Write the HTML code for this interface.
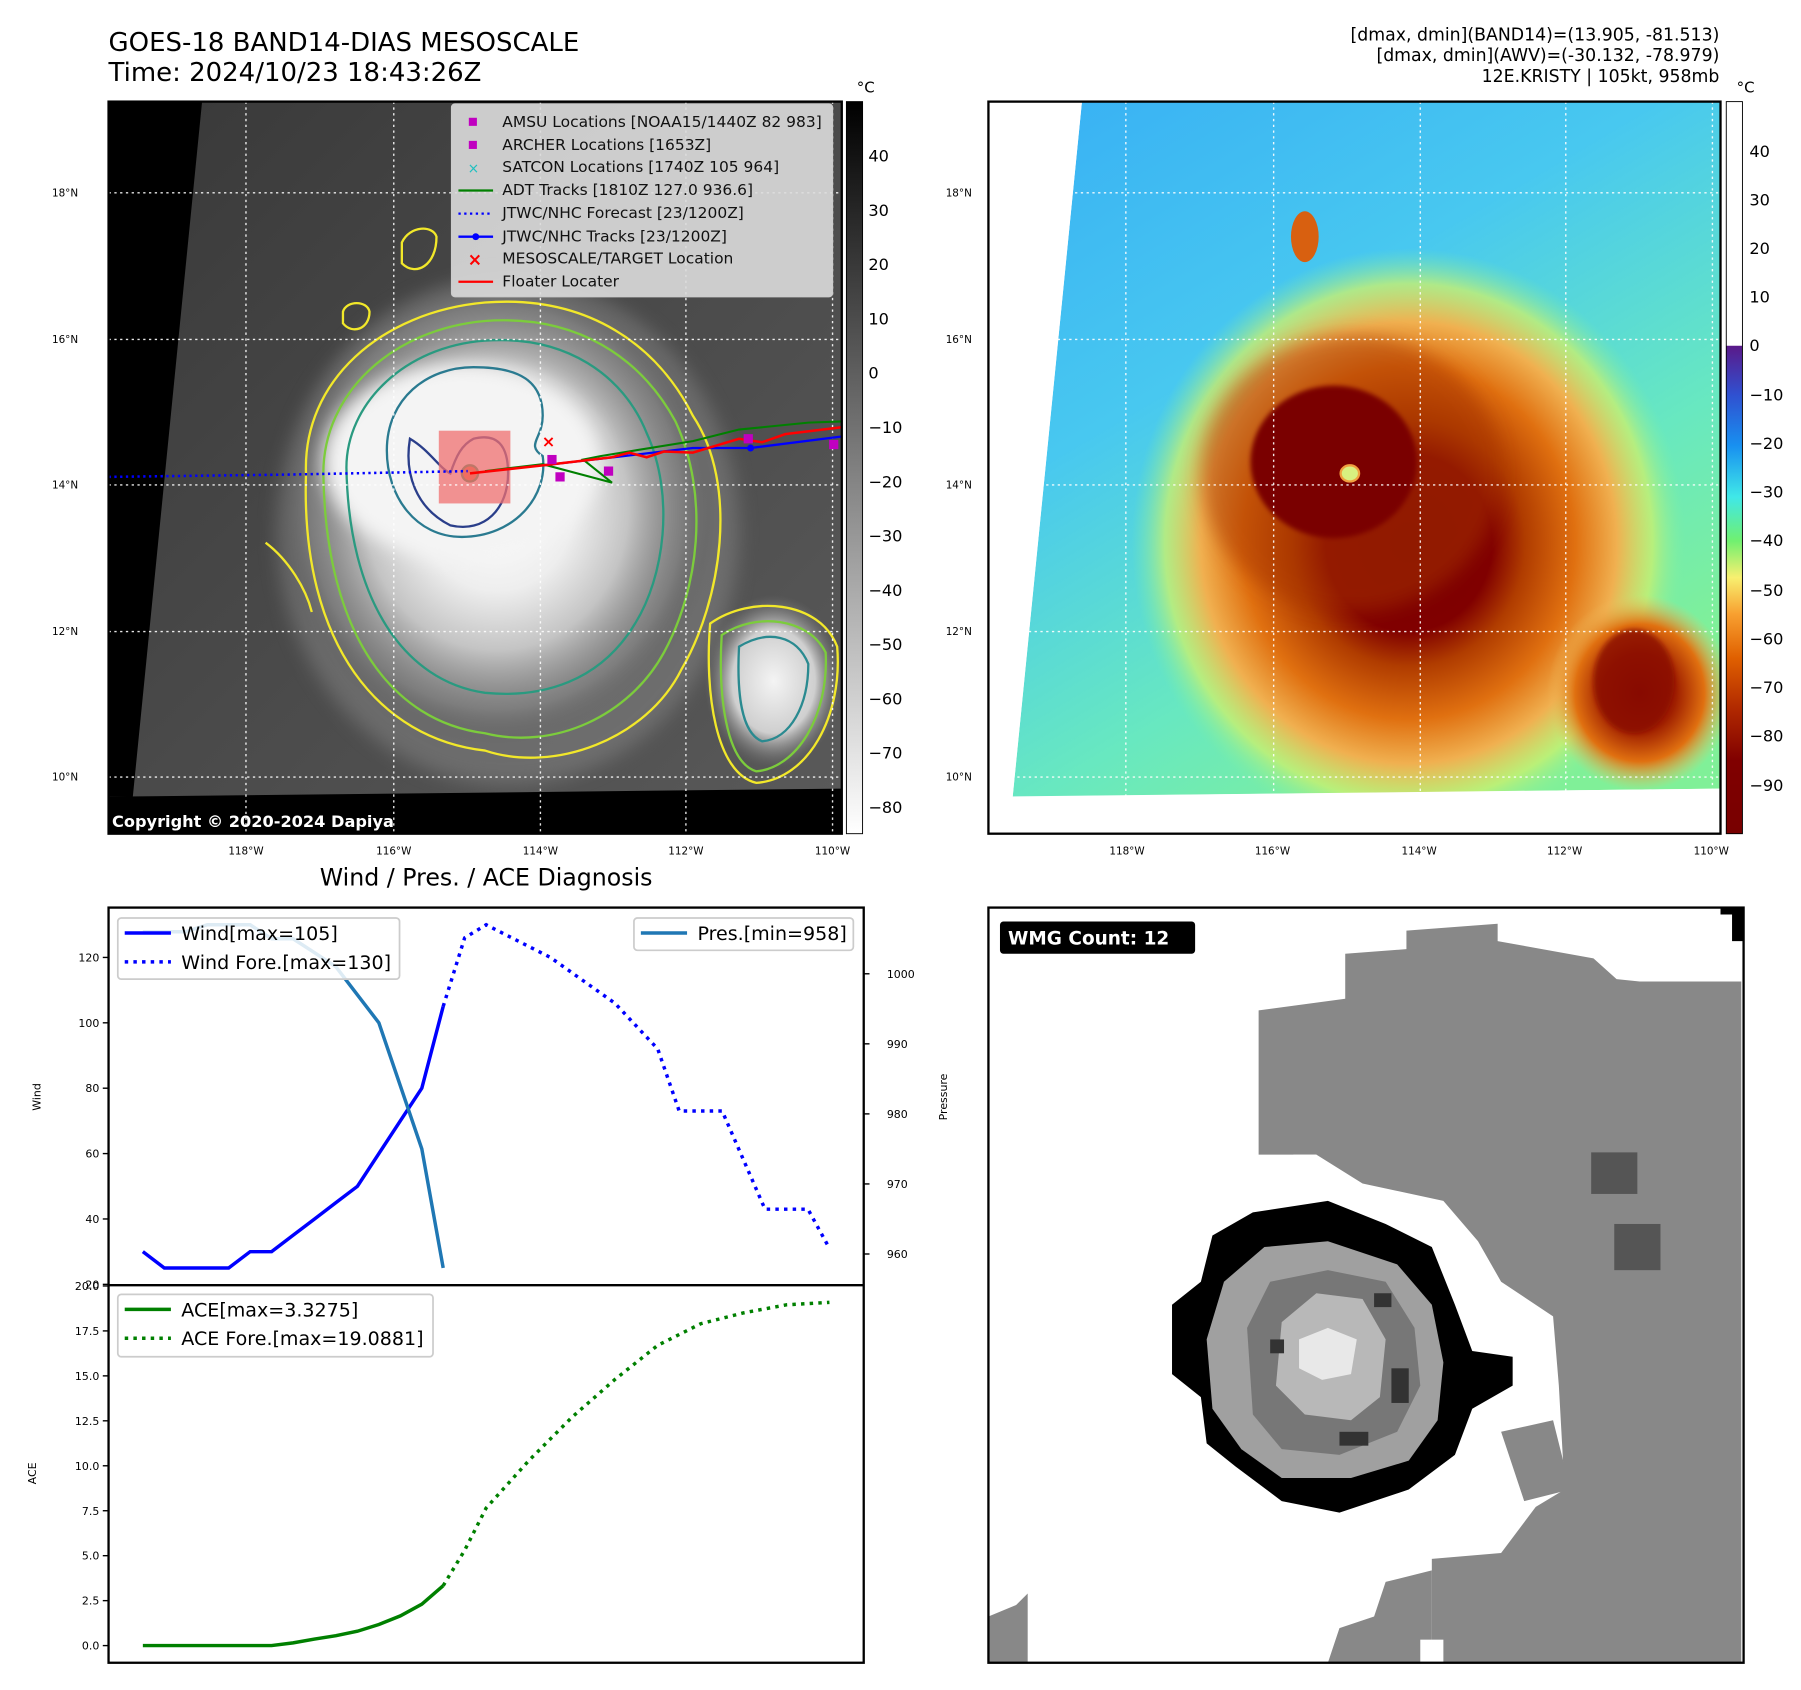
<!DOCTYPE html>
<html><head><meta charset="utf-8"><style>
html,body{margin:0;padding:0;background:#fff;}
svg{display:block;font-family:"DejaVu Sans","Liberation Sans",sans-serif;}
</style></head><body>
<svg id="fig" xmlns="http://www.w3.org/2000/svg" width="1801" height="1690" viewBox="0 0 1559.7 1463.6">
<defs>
<radialGradient id="irg" cx="0.5" cy="0.5" r="0.5">
<stop offset="0" stop-color="#ffffff"/><stop offset="0.35" stop-color="#eeeeee"/><stop offset="0.6" stop-color="#c4c4c4"/><stop offset="0.85" stop-color="#8a8a8a" stop-opacity="0.6"/><stop offset="1" stop-color="#555" stop-opacity="0"/>
</radialGradient>
<radialGradient id="irg2" cx="0.5" cy="0.5" r="0.5">
<stop offset="0" stop-color="#f4f4f4"/><stop offset="0.6" stop-color="#cfcfcf"/><stop offset="1" stop-color="#777" stop-opacity="0"/>
</radialGradient>
<linearGradient id="irbg" x1="0" y1="0" x2="1" y2="1">
<stop offset="0" stop-color="#383838"/><stop offset="0.5" stop-color="#4a4a4a"/><stop offset="1" stop-color="#5a5a5a"/>
</linearGradient>
<linearGradient id="cb1" x1="0" y1="0" x2="0" y2="1">
<stop offset="0" stop-color="#000"/><stop offset="1" stop-color="#fff"/>
</linearGradient>
<linearGradient id="cb2" x1="0" y1="0" x2="0" y2="1">
<stop offset="0" stop-color="#ffffff"/><stop offset="0.333" stop-color="#ffffff"/>
<stop offset="0.334" stop-color="#5a1a8a"/><stop offset="0.4" stop-color="#3050d0"/><stop offset="0.47" stop-color="#1890f0"/>
<stop offset="0.54" stop-color="#40e8e8"/><stop offset="0.6" stop-color="#70f070"/><stop offset="0.65" stop-color="#f8f070"/>
<stop offset="0.7" stop-color="#f8a030"/><stop offset="0.76" stop-color="#e06000"/><stop offset="0.83" stop-color="#b02800"/>
<stop offset="0.9" stop-color="#800000"/><stop offset="1" stop-color="#780000"/>
</linearGradient>
<linearGradient id="rgbg" x1="0" y1="0" x2="0.6" y2="1">
<stop offset="0" stop-color="#38b0f4"/><stop offset="0.4" stop-color="#48c8f0"/><stop offset="0.75" stop-color="#68e8c0"/><stop offset="1" stop-color="#80f098"/>
</linearGradient>
<radialGradient id="rgst" cx="0.5" cy="0.5" r="0.5">
<stop offset="0" stop-color="#7a0000"/><stop offset="0.3" stop-color="#800000"/><stop offset="0.42" stop-color="#b03c00"/>
<stop offset="0.6" stop-color="#e07010"/><stop offset="0.75" stop-color="#f0b050"/><stop offset="0.88" stop-color="#c8f070" stop-opacity="0.8"/><stop offset="1" stop-color="#80f0a0" stop-opacity="0"/>
</radialGradient>
<radialGradient id="rgst2" cx="0.5" cy="0.5" r="0.5">
<stop offset="0" stop-color="#800000"/><stop offset="0.4" stop-color="#a02000"/><stop offset="0.7" stop-color="#e07010"/><stop offset="1" stop-color="#f0c060" stop-opacity="0"/>
</radialGradient>
<filter id="blur2"><feGaussianBlur stdDeviation="2"/></filter>
<filter id="blur8"><feGaussianBlur stdDeviation="8"/></filter>
<clipPath id="clipL"><rect x="94" y="88" width="635" height="634"/></clipPath>
<clipPath id="clipR"><rect x="856" y="88" width="634" height="634"/></clipPath>
<clipPath id="clipB"><rect x="856" y="786" width="654" height="654"/></clipPath>
<clipPath id="clipC"><rect x="94" y="786" width="654" height="654"/></clipPath>
</defs>

<text x="94" y="44" font-size="22.5">GOES-18 BAND14-DIAS MESOSCALE</text>
<text x="94" y="70" font-size="22.5">Time: 2024/10/23 18:43:26Z</text>
<g font-size="15" text-anchor="end">
<text x="1489" y="35">[dmax, dmin](BAND14)=(13.905, -81.513)</text>
<text x="1489" y="53">[dmax, dmin](AWV)=(-30.132, -78.979)</text>
<text x="1489" y="71">12E.KRISTY | 105kt, 958mb</text>
</g>

<g clip-path="url(#clipL)">
<rect x="94" y="88" width="635" height="634" fill="url(#irbg)"/>
<ellipse cx="440" cy="460" rx="200" ry="220" fill="#888" opacity="0.5" filter="url(#blur8)"/>
<ellipse cx="430" cy="440" rx="190" ry="205" fill="url(#irg)"/>
<ellipse cx="400" cy="400" rx="120" ry="85" fill="#f4f4f4" filter="url(#blur8)"/>
<ellipse cx="670" cy="590" rx="60" ry="75" fill="url(#irg2)"/>
<g fill="none" stroke-width="2">
<path d="M265,410 C262,330 330,270 420,262 C510,255 570,300 600,360 C640,420 625,520 590,580 C560,640 480,670 420,650 C330,640 260,560 265,410Z" stroke="#f2e82a"/>
<path d="M280,410 C280,340 340,285 420,278 C500,272 555,310 585,365 C615,430 605,510 575,565 C545,620 480,650 420,635 C340,625 282,550 280,410Z" stroke="#7ccc3c"/>
<path d="M300,405 C300,350 350,300 420,295 C490,290 540,325 560,375 C585,430 575,500 550,540 C520,590 470,605 420,600 C350,590 302,520 300,405Z" stroke="#2a9a80"/>
<path d="M335,390 C335,345 370,318 410,318 C450,318 470,330 470,360 C470,380 455,385 470,395 C475,430 445,465 400,465 C360,465 335,430 335,390Z" stroke="#2a7a90"/>
<path d="M355,380 C350,410 360,440 390,455 C420,462 440,440 440,410 C440,385 430,375 410,380 C400,385 395,395 390,410 C380,405 372,390 355,380Z" stroke="#2a3e8a"/>
<path d="M615,540 C650,515 710,520 725,560 C730,620 700,675 655,678 C620,670 610,600 615,540Z" stroke="#f2e82a"/>
<path d="M625,550 C655,530 700,535 715,565 C718,620 690,665 655,668 C628,660 622,600 625,550Z" stroke="#7ccc3c"/>
<path d="M640,560 C665,545 690,550 700,575 C700,610 685,640 660,642 C642,635 638,600 640,560Z" stroke="#2a8a90"/>
<path d="M348,210 C355,195 375,195 378,205 C378,230 360,240 348,228Z" stroke="#f2e82a"/>
<path d="M297,270 C300,260 318,260 320,270 C320,285 305,290 297,280Z" stroke="#f2e82a"/>
<path d="M230,470 C250,485 265,510 270,530" stroke="#f2e82a"/>
</g>
<circle cx="407" cy="410" r="7" fill="#f06030" stroke="#2a8a50" stroke-width="2"/>
<rect x="380" y="373" width="62" height="63" fill="#f07070" opacity="0.75"/>
<polygon points="94,88 175,88 115,690 94,690" fill="#000"/>
<polygon points="94,690 729,683 729,722 94,722" fill="#000"/>
<g stroke="#fff" stroke-width="1.2" stroke-dasharray="2 3" opacity="0.9">
<line x1="213" y1="88" x2="213" y2="722"/><line x1="341" y1="88" x2="341" y2="722"/><line x1="468" y1="88" x2="468" y2="722"/><line x1="594" y1="88" x2="594" y2="722"/><line x1="721" y1="88" x2="721" y2="722"/>
<line x1="94" y1="167" x2="729" y2="167"/><line x1="94" y1="294" x2="729" y2="294"/><line x1="94" y1="420" x2="729" y2="420"/><line x1="94" y1="547" x2="729" y2="547"/><line x1="94" y1="673" x2="729" y2="673"/>
</g>
<polyline points="94,413 250,411 405,408" fill="none" stroke="#0000ff" stroke-width="2.2" stroke-dasharray="2 3"/>
<polyline points="420,408 470,402 530,418 505,398 520,395 600,382 640,372 700,366 729,365" fill="none" stroke="#008000" stroke-width="1.8"/>
<polyline points="470,403 540,395 600,388 650,388 729,378" fill="none" stroke="#0000ff" stroke-width="2"/>
<circle cx="650" cy="388" r="3" fill="#0000ff"/>
<polyline points="407,410 470,403 530,396 545,392 560,396 575,391 600,392 640,380 660,383 680,376 729,370" fill="none" stroke="#ff0000" stroke-width="2.2"/>
<g fill="#c000c0">
<rect x="474" y="394" width="8" height="8"/><rect x="481" y="409" width="8" height="8"/><rect x="523" y="404" width="8" height="8"/><rect x="644" y="376" width="8" height="8"/><rect x="718" y="381" width="8" height="8"/>
</g>
<text x="475" y="387" font-size="14" fill="#ff0000" text-anchor="middle" font-weight="bold">×</text>
<text x="97" y="716" font-size="14" font-weight="bold" fill="#fff">Copyright © 2020-2024 Dapiya</text>
<g>
<rect x="391" y="90" width="330" height="167" rx="3" fill="#dcdcdc" fill-opacity="0.9" stroke="#ccc"/>
<g font-size="13.4" fill="#111">
<rect x="406" y="102" width="7" height="7" fill="#c000c0"/><text x="435" y="110">AMSU Locations [NOAA15/1440Z 82 983]</text>
<rect x="406" y="122" width="7" height="7" fill="#c000c0"/><text x="435" y="130">ARCHER Locations [1653Z]</text>
<text x="405" y="150" fill="#20c0c0" font-size="12">×</text><text x="435" y="149">SATCON Locations [1740Z 105 964]</text>
<line x1="397" y1="165" x2="427" y2="165" stroke="#008000" stroke-width="2"/><text x="435" y="169">ADT Tracks [1810Z 127.0 936.6]</text>
<line x1="397" y1="185" x2="427" y2="185" stroke="#0000ff" stroke-width="2" stroke-dasharray="2 3"/><text x="435" y="189">JTWC/NHC Forecast [23/1200Z]</text>
<line x1="397" y1="205" x2="427" y2="205" stroke="#0000ff" stroke-width="2"/><circle cx="412" cy="205" r="3" fill="#0000ff"/><text x="435" y="209">JTWC/NHC Tracks [23/1200Z]</text>
<text x="405" y="230" fill="#ff0000" font-size="15" font-weight="bold">×</text><text x="435" y="228">MESOSCALE/TARGET Location</text>
<line x1="397" y1="244" x2="427" y2="244" stroke="#ff0000" stroke-width="2"/><text x="435" y="248">Floater Locater</text>
</g></g>
</g>
<rect x="94" y="88" width="635" height="634" fill="none" stroke="#000" stroke-width="2"/>
<g font-size="9" fill="#000">
<text x="45" y="170">18°N</text><text x="45" y="297">16°N</text><text x="45" y="423">14°N</text><text x="45" y="550">12°N</text><text x="45" y="676">10°N</text>
<g text-anchor="middle"><text x="213" y="740">118°W</text><text x="341" y="740">116°W</text><text x="468" y="740">114°W</text><text x="594" y="740">112°W</text><text x="721" y="740">110°W</text></g>
</g>
<g>
<rect x="733" y="88" width="14" height="634" fill="url(#cb1)" stroke="#000" stroke-width="0.8"/>
<text x="742" y="80" font-size="13">°C</text>
<g font-size="14">
<text x="752" y="140">40</text><text x="752" y="187">30</text><text x="752" y="234">20</text><text x="752" y="281">10</text><text x="752" y="328">0</text>
<text x="752" y="375">−10</text><text x="752" y="422">−20</text><text x="752" y="469">−30</text><text x="752" y="516">−40</text><text x="752" y="563">−50</text>
<text x="752" y="610">−60</text><text x="752" y="657">−70</text><text x="752" y="704">−80</text>
</g></g>

<g clip-path="url(#clipR)">
<rect x="856" y="88" width="634" height="634" fill="#fff"/>
<polygon points="937,88 1490,88 1490,683 877,690" fill="url(#rgbg)"/>
<ellipse cx="1220" cy="470" rx="240" ry="255" fill="url(#rgst)"/>
<ellipse cx="1170" cy="410" rx="130" ry="120" fill="#a83400" opacity="0.5" filter="url(#blur8)"/>
<ellipse cx="1155" cy="400" rx="72" ry="66" fill="#7a0000" filter="url(#blur2)"/>
<ellipse cx="1420" cy="600" rx="80" ry="85" fill="url(#rgst2)"/>
<ellipse cx="1415" cy="590" rx="35" ry="45" fill="#8a0a00" opacity="0.8" filter="url(#blur2)"/>
<ellipse cx="1130" cy="205" rx="12" ry="22" fill="#d86010"/>
<ellipse cx="1169" cy="410" rx="8" ry="7" fill="#d8f080" stroke="#f0a040" stroke-width="2"/>
<g stroke="#fff" stroke-width="1.2" stroke-dasharray="2 3" opacity="0.9">
<line x1="975" y1="88" x2="975" y2="722"/><line x1="1103" y1="88" x2="1103" y2="722"/><line x1="1230" y1="88" x2="1230" y2="722"/><line x1="1356" y1="88" x2="1356" y2="722"/><line x1="1483" y1="88" x2="1483" y2="722"/>
<line x1="856" y1="167" x2="1490" y2="167"/><line x1="856" y1="294" x2="1490" y2="294"/><line x1="856" y1="420" x2="1490" y2="420"/><line x1="856" y1="547" x2="1490" y2="547"/><line x1="856" y1="673" x2="1490" y2="673"/>
</g>
<polygon points="856,88 937,88 877,690 856,690" fill="#fff"/>
<polygon points="856,690 1490,683 1490,722 856,722" fill="#fff"/>
</g>
<rect x="856" y="88" width="634" height="634" fill="none" stroke="#000" stroke-width="2"/>
<g font-size="9" fill="#000">
<text x="819" y="170">18°N</text><text x="819" y="297">16°N</text><text x="819" y="423">14°N</text><text x="819" y="550">12°N</text><text x="819" y="676">10°N</text>
<g text-anchor="middle"><text x="976" y="740">118°W</text><text x="1102" y="740">116°W</text><text x="1229" y="740">114°W</text><text x="1355" y="740">112°W</text><text x="1482" y="740">110°W</text></g>
</g>
<g>
<rect x="1495" y="88" width="14" height="634" fill="url(#cb2)" stroke="#000" stroke-width="0.8"/>
<text x="1504" y="80" font-size="13">°C</text>
<g font-size="14">
<text x="1515" y="136">40</text><text x="1515" y="178">30</text><text x="1515" y="220">20</text><text x="1515" y="262">10</text><text x="1515" y="304">0</text>
<text x="1515" y="347">−10</text><text x="1515" y="389">−20</text><text x="1515" y="431">−30</text><text x="1515" y="473">−40</text><text x="1515" y="516">−50</text>
<text x="1515" y="558">−60</text><text x="1515" y="600">−70</text><text x="1515" y="642">−80</text><text x="1515" y="685">−90</text>
</g></g>

<text x="421" y="767" font-size="20.5" text-anchor="middle">Wind / Pres. / ACE Diagnosis</text>
<g id="chart"></g>

<g clip-path="url(#clipB)">
<rect x="856" y="786" width="654" height="654" fill="#fff"/>
<polygon fill="#888" points="1090,875 1165,865 1165,826 1218,822 1218,806 1297,800 1297,815 1380,830 1400,848 1420,850 1508,850 1508,1440 1240,1440 1240,1350 1300,1345 1330,1305 1355,1290 1350,1200 1345,1140 1300,1110 1280,1075 1250,1040 1180,1025 1140,1000 1090,1000"/>
<polygon fill="#888" points="1300,1240 1345,1230 1360,1290 1320,1300"/>
<polygon fill="#888" points="1150,1440 1160,1410 1190,1400 1200,1370 1240,1360 1240,1440"/>
<polygon fill="#888" points="856,1400 880,1390 890,1380 890,1440 856,1440"/>
<rect x="1230" y="1420" width="20" height="20" fill="#fff"/>
<rect x="1120" y="1000" width="20" height="10" fill="#fff"/>
<rect x="1378" y="998" width="40" height="36" fill="#555"/>
<rect x="1398" y="1060" width="40" height="40" fill="#555"/>
<g>
<polygon fill="#000" points="1050,1070 1085,1050 1150,1040 1200,1060 1240,1080 1260,1130 1275,1170 1310,1175 1310,1200 1275,1220 1260,1260 1220,1290 1160,1310 1110,1300 1070,1270 1045,1250 1040,1210 1015,1190 1015,1130 1040,1110"/>
<polygon fill="#a0a0a0" points="1060,1110 1095,1080 1150,1075 1210,1095 1240,1130 1250,1180 1245,1230 1220,1265 1170,1280 1110,1280 1075,1255 1050,1220 1045,1160"/>
<polygon fill="#777" points="1080,1150 1100,1110 1150,1100 1200,1110 1225,1150 1230,1200 1210,1240 1160,1260 1110,1255 1085,1225"/>
<polygon fill="#b8b8b8" points="1110,1145 1140,1120 1180,1125 1200,1160 1195,1210 1170,1230 1130,1225 1105,1200"/>
<polygon fill="#e8e8e8" points="1125,1160 1150,1150 1175,1160 1170,1190 1145,1195 1125,1185"/>
<rect x="1100" y="1160" width="12" height="12" fill="#333"/><rect x="1205" y="1185" width="15" height="30" fill="#333"/>
<rect x="1160" y="1240" width="25" height="12" fill="#333"/><rect x="1190" y="1120" width="15" height="12" fill="#333"/>
</g>
<rect x="866" y="798" width="169" height="28" rx="3" fill="#000"/>
<text x="873" y="818" font-size="16" font-weight="bold" fill="#fff">WMG Count: 12</text>
<polygon points="1490,786 1510,786 1510,815 1500,815 1500,792 1490,792" fill="#000"/>
</g>
<rect x="856" y="786" width="654" height="654" fill="none" stroke="#000" stroke-width="2"/>
</svg>

<script>
const windX = [0,1,2,3,4,5,6,7,8,9,10,11,12,13,14];
const windV = [30,25,25,25,25,30,30,35,40,45,50,60,70,80,105];
const foreX = [14,15,16,19,22,24,25,27,29,31,32];
const foreV = [105,126,130,120,106,92,73,73,43,43,31];
const presX = [0,1,2,3,4,5,6,7,8,9,10,11,12,13,14];
const presV = [1006,1006,1006,1007,1007,1007,1005,1005,1003,1001,997,993,984,975,958];
const aceX = [0,1,2,3,4,5,6,7,8,9,10,11,12,13,14];
const aceV = [0,0,0,0,0,0,0,0.15,0.36,0.55,0.8,1.17,1.65,2.3,3.33];
const aceFX = [14,15,16,18,20,22,24,26,28,30,32];
const aceFV = [3.33,5.3,7.65,10.3,12.7,14.8,16.7,17.9,18.5,18.95,19.09];
const windTicks = [20,40,60,80,100,120];
const presTicks = [960,970,980,990,1000];
const aceTicks = [0,2.5,5,7.5,10,12.5,15,17.5,20];

const NS='http://www.w3.org/2000/svg';
const L=94,R=748,T1=786,M=1113,B2=1440;
const X=i=>L+(i+1.6)/35.2*(R-L);
const Yw=v=>M-(v-19.75)/115.5*(M-T1);
const Yp=v=>M-(v-955.55)/53.9*(M-T1);
const Ya=v=>B2-(v+0.954)/20.998*(B2-M);
const g=document.getElementById('chart');
function mk(tag,attrs,parent){const e=document.createElementNS(NS,tag);for(const k in attrs)e.setAttribute(k,attrs[k]);(parent||g).appendChild(e);return e;}
function line(xs,vs,yf,color,dash,name){
  const pts=xs.map((x,i)=>X(x).toFixed(1)+','+yf(vs[i]).toFixed(1)).join(' ');
  const p=mk('polyline',{points:pts,fill:'none',stroke:color,'stroke-width':3,'stroke-dasharray':dash||'none'});
  
  
  return p;
}
function txt(x,y,s,fs,anchor,rot){const t=mk('text',{x:x,y:y,'font-size':fs,'text-anchor':anchor||'start'});if(rot)t.setAttribute('transform','rotate(-90 '+x+' '+y+')');t.textContent=s;return t;}

mk('rect',{x:L,y:T1,width:R-L,height:B2-T1,fill:'#fff'});
windTicks.forEach(v=>{const y=Yw(v);mk('line',{x1:L-5,x2:L,y1:y,y2:y,stroke:'#000','stroke-width':1.2});const t=txt(L-8,y+3.5,String(v),9.5,'end');});
presTicks.forEach(v=>{const y=Yp(v);mk('line',{x1:R,x2:R+5,y1:y,y2:y,stroke:'#000','stroke-width':1.2});const t=txt(R+20,y+3.5,String(v),9.5,'start');});
aceTicks.forEach(v=>{const y=Ya(v);mk('line',{x1:L-5,x2:L,y1:y,y2:y,stroke:'#000','stroke-width':1.2});const t=txt(L-8,y+3.5,v.toFixed(1),9.5,'end');});
let yl=txt(35,950,'Wind',9.5,'middle',true);
yl=txt(820,950,'Pressure',9.5,'middle',true);
yl=txt(31,1276,'ACE',9.5,'middle',true);

const cg=mk('g',{'clip-path':'url(#clipC)'});
function cline(xs,vs,yf,color,dash,name){const p=line(xs,vs,yf,color,dash,name);cg.appendChild(p);return p;}
cline(windX,windV,Yw,'#0000ff',null,'wind-line');
cline(foreX,foreV,Yw,'#0000ff','3 4.5','wind-forecast-line');
cline(aceX,aceV,Ya,'#008000',null,'ace-line');
cline(aceFX,aceFV,Ya,'#008000','3 4.5','ace-forecast-line');

function legend(x,y,w,h,items,name){
  const lg=mk('g',{});
  
  
  mk('rect',{x:x,y:y,width:w,height:h,rx:3,fill:'#fff','fill-opacity':0.85,stroke:'#ccc','stroke-width':1.5},lg);
  items.forEach((it,i)=>{const yy=y+13+i*25;mk('line',{x1:x+6,x2:x+46,y1:yy,y2:yy,stroke:it[1],'stroke-width':3,'stroke-dasharray':it[2]||'none'},lg);const t=mk('text',{x:x+55,y:yy+6,'font-size':16.5},lg);t.textContent=it[0];});
}
legend(102,795,244,53,[['Wind[max=105]','#0000ff'],['Wind Fore.[max=130]','#0000ff','3 4.5']],'wind-legend');
cline(presX,presV,Yp,'#1f77b4',null,'pressure-line');
legend(549,795,190,28,[['Pres.[min=958]','#1f77b4']],'pressure-legend');
legend(102,1121,273,54,[['ACE[max=3.3275]','#008000'],['ACE Fore.[max=19.0881]','#008000','3 4.5']],'ace-legend');

mk('rect',{x:L,y:T1,width:R-L,height:B2-T1,fill:'none',stroke:'#000','stroke-width':2});
mk('line',{x1:L,x2:R,y1:M,y2:M,stroke:'#000','stroke-width':2});
</script>
</body></html>
